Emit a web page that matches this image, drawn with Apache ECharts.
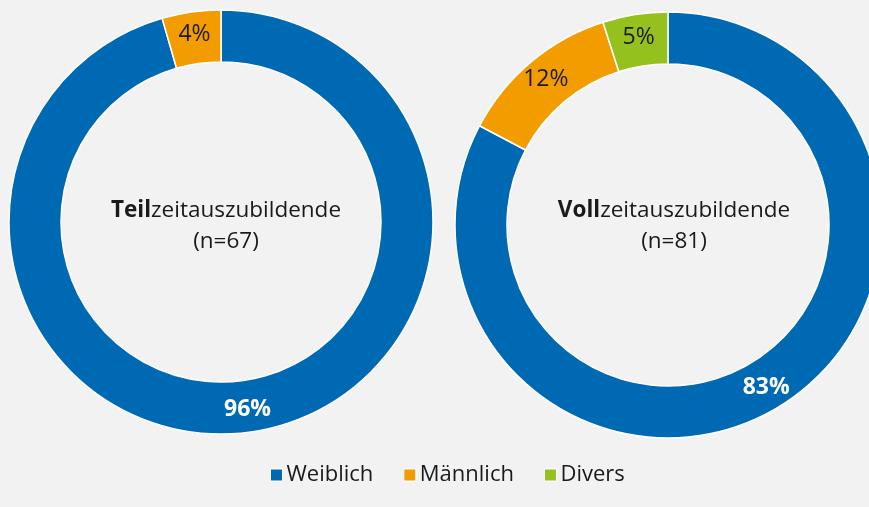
<!DOCTYPE html>
<html>
<head>
<meta charset="utf-8">
<script src="https://cdn.jsdelivr.net/npm/echarts@6/dist/echarts.min.js"></script>
<style>
html,body{margin:0;padding:0;background:#f2f2f2;}
#c{width:869px;height:507px;}
</style>
</head>
<body>
<div id="c"></div>
<script>
const categories = ['Weiblich', 'Männlich', 'Divers'];
const teilzeitValues = [64, 3];        // n=67
const vollzeitValues = [67, 10, 4];    // n=81
const groupTitles = ['Teil', 'Voll'];
const groupSuffix = 'zeitauszubildende';
const groupN = ['(n=67)', '(n=81)'];
const colors = ['#0069b4', '#f39c00', '#95c11f'];

const FONT = '"Open Sans", "Noto Sans", sans-serif';

function makeData(vals) {
  return vals.map((v, i) => ({
    name: categories[i],
    value: v,
    label: i === 0
      ? { color: '#ffffff', fontWeight: 'bold' }
      : { color: '#1a1a1a', fontWeight: 'normal' }
  }));
}

function makeSeries(vals, center, radius) {
  return {
    type: 'pie',
    center: center,
    radius: radius,
    startAngle: 90,
    clockwise: true,
    percentPrecision: 0,
    silent: true,
    itemStyle: { borderColor: '#ffffff', borderWidth: 1.5 },
    label: {
      show: true,
      position: 'inside',
      formatter: '{d}%',
      fontSize: 23,
      fontFamily: FONT
    },
    labelLine: { show: false },
    data: makeData(vals)
  };
}

function makeTitle(i, x) {
  return {
    left: x,
    top: 190,
    textAlign: 'center',
    text: '{b|' + groupTitles[i] + '}{n|' + groupSuffix + '}\n{n|' + groupN[i] + '}',
    textStyle: {
      rich: {
        b: { fontSize: 22.5, fontWeight: 'bold', color: '#1a1a1a', fontFamily: FONT, lineHeight: 31 },
        n: { fontSize: 22.5, fontWeight: 'normal', color: '#1a1a1a', fontFamily: FONT, lineHeight: 31 }
      }
    }
  };
}

const chart = echarts.init(document.getElementById('c'), null, { renderer: 'canvas' });
chart.setOption({
  backgroundColor: '#f2f2f2',
  color: colors,
  animation: false,
  title: [makeTitle(0, 221), makeTitle(1, 669)],
  legend: {
    data: categories,
    bottom: 16,
    left: 265,
    icon: 'rect',
    itemWidth: 12,
    itemHeight: 12,
    itemGap: 30,
    itemStyle: { borderColor: '#ffffff', borderWidth: 1 },
    textStyle: { fontSize: 22, color: '#1a1a1a', fontFamily: FONT, padding: [0, 0, 0, -1] }
  },
  series: [
    makeSeries(teilzeitValues, [221, 222], [160, 212]),
    makeSeries(vollzeitValues, [668, 225], [161, 213])
  ]
});
</script>
</body>
</html>
